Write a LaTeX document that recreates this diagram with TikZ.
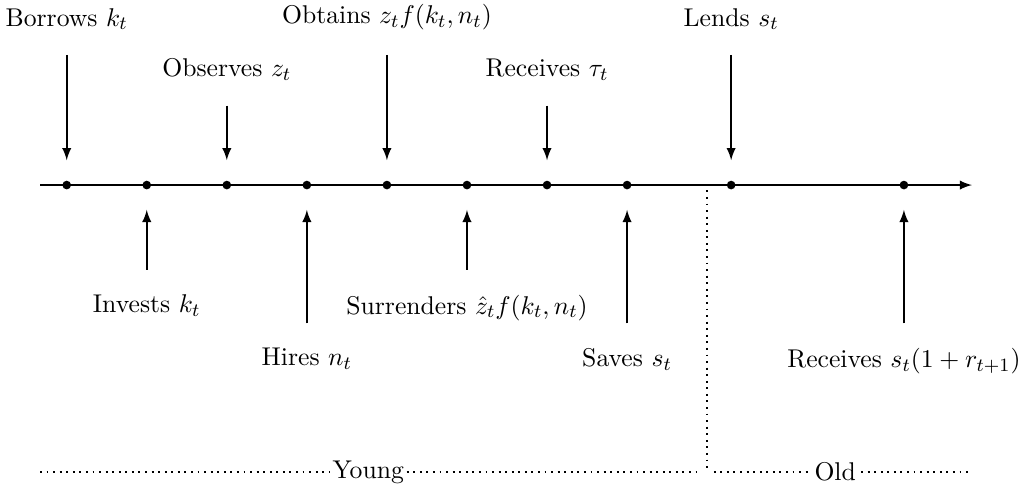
\documentclass[tikz,border=0pt]{standalone}
\usepackage{amsmath}
\usepackage{tikz}
\usetikzlibrary{arrows,positioning}
\tikzstyle{timeline} = [
    thick,
    -latex
]
\tikzstyle{arrow} = [
    thick,
    -latex,
    shorten <=0.25cm,
    shorten >=0.3cm
]
\tikzstyle{dot} = [
    circle,
    fill=black,
    inner sep=0pt,
    minimum size=0.13cm
]
\tikzstyle{period} = [
    thick,
    dotted
]
\tikzstyle{event} = [
    font=\fontsize{10.95}{13.6}\selectfont
]

\begin{document}
\begin{tikzpicture}
    \useasboundingbox (0,-4.648) rectangle (15.35,2.774);
    % time line
    \coordinate (start) at (0.6,0);
    \coordinate (end) at (14.57,0);
    \draw[timeline] (start) -- (end);
    \foreach \x [count=\i] in {1.0,2.2,3.4,4.6,5.8,7.0,8.2,9.4,10.96,13.55}
        \node[dot] (d\i) at (\x,0) {};

    % events above the line
    \node[event, above=2.13cm of d1] (borrow) {Borrows $k_t$};
    \node[event, above=1.37cm of d3] (observe) {Observes $z_t$};
    \node[event, above=2.13cm of d5] (obtain) {Obtains $z_t f(k_t,n_t)$};
    \node[event, above=1.37cm of d7] (receive) {Receives $\tau_t$};
    \node[event, above=2.13cm of d9] (lend) {Lends $s_t$};
    \foreach \a/\b in {borrow/d1,observe/d3,obtain/d5,receive/d7,lend/d9}
        \draw[arrow] (\a) -- (\b);

    % events below the line
    \node[event, below=1.45cm of d2] (invest) {Invests $k_t$};
    \node[event, below=2.25cm of d4] (hire) {Hires $n_t$};
    \node[event, below=1.45cm of d6] (surrender) {Surrenders $\hat{z}_t f(k_t,n_t)$};
    \node[event, below=2.25cm of d8] (save) {Saves $s_t$};
    \node[event, below=2.25cm of d10] (repay) {Receives $s_t(1+r_{t+1})$};
    \foreach \a/\b in {invest/d2,hire/d4,surrender/d6,save/d8,repay/d10}
        \draw[arrow] (\a) -- (\b);

    % young and old
    \coordinate (split) at (10.6,-0.08);
    \coordinate (corner) at (10.6,-4.3);
    \coordinate (left) at (0.6,-4.3);
    \coordinate (right) at (14.55,-4.3);
    \node[event, inner sep=1pt] (young) at (5.52,-4.3) {Young};
    \node[event, inner sep=2pt] (old) at (12.52,-4.3) {Old};
    \draw[period] (split) -- (corner);
    \draw[period] (left) -- (young.west);
    \draw[period] (young.east) -- ([xshift=-0.1cm]corner);
    \draw[period] ([xshift=0.1cm]corner) -- (old.west);
    \draw[period] (old.east) -- (right);
\end{tikzpicture}
\end{document}
